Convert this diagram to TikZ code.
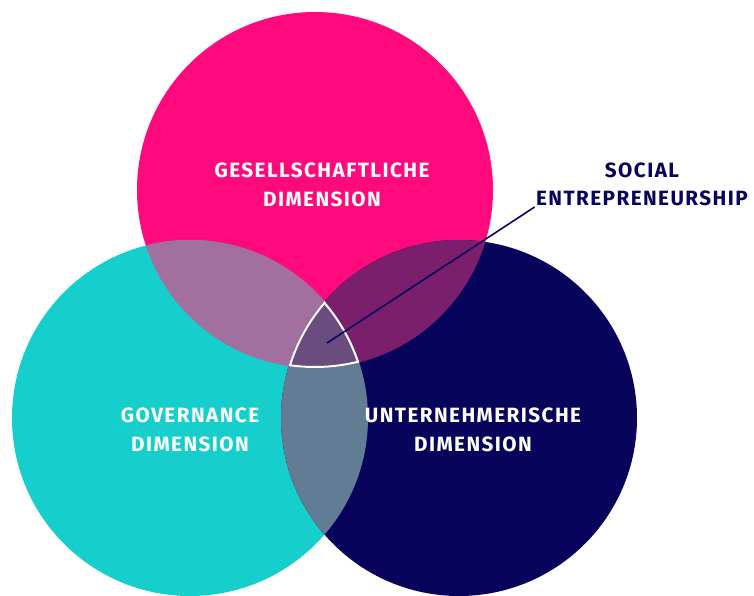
\documentclass[tikz,border=0pt]{standalone}
\usepackage{fontspec}
\setmainfont{Fira Sans}
\newfontfamily\dimfont[LetterSpace=7]{Fira Sans}
\usepackage{tikz}
\definecolor{pinkdim}{HTML}{FE0A7C}
\definecolor{cyandim}{HTML}{16CFCC}
\definecolor{navydim}{HTML}{08045C}
\definecolor{pinkcyan}{HTML}{A2709F}
\definecolor{pinknavy}{HTML}{7B1F6C}
\definecolor{cyannavy}{HTML}{617C93}
\definecolor{coredim}{HTML}{6A4C7E}
\tikzset{every picture/.style={line width=0.75pt}}
\tikzset{dimlabel/.style={text=white,font=\dimfont\bfseries\fontsize{15.5}{21.5}\selectfont,align=center,inner sep=0.75pt},
  sociallabel/.style={text=navydim,font=\dimfont\bfseries\fontsize{15.5}{21}\selectfont,align=center,inner sep=0.75pt}}

\begin{document}
\begin{tikzpicture}[x=0.75pt,y=0.75pt,yscale=-1,xscale=1]
\clip (0,0) rectangle (754,596);
\fill[white] (0,0) rectangle (754,596);
% circles
\fill[pinkdim] (315,190) circle (178);
\fill[cyandim] (190,418) circle (178);
\fill[navydim] (459,418) circle (178);
% overlaps
\begin{scope}
\clip (315,190) circle (178);
\fill[pinkcyan] (190,418) circle (178);
\fill[pinknavy] (459,418) circle (178);
\end{scope}
\begin{scope}
\clip (190,418) circle (178);
\fill[cyannavy] (459,418) circle (178);
\end{scope}
\begin{scope}
\clip (315,190) circle (178);
\clip (190,418) circle (178);
\clip (459,418) circle (178);
\fill[coredim] (315,190) circle (178);
\draw[white,line width=3pt] (315,190) circle (178);
\draw[white,line width=3pt] (190,418) circle (178);
\draw[white,line width=3pt] (459,418) circle (178);
\end{scope}
% labels
\draw (322,185) node [dimlabel] (gesell) {GESELLSCHAFTLICHE\\DIMENSION};
\draw (190,430) node [dimlabel] (gov) {GOVERNANCE\\DIMENSION};
\draw (473,430) node [dimlabel] (unt) {UNTERNEHMERISCHE\\DIMENSION};
\draw (642,184) node [sociallabel] (social) {SOCIAL\\ENTREPRENEURSHIP};
\coordinate (core) at (327,343);
\draw[navydim,line width=1.2pt] (core) -- (social.south west);
\end{tikzpicture}
\end{document}
